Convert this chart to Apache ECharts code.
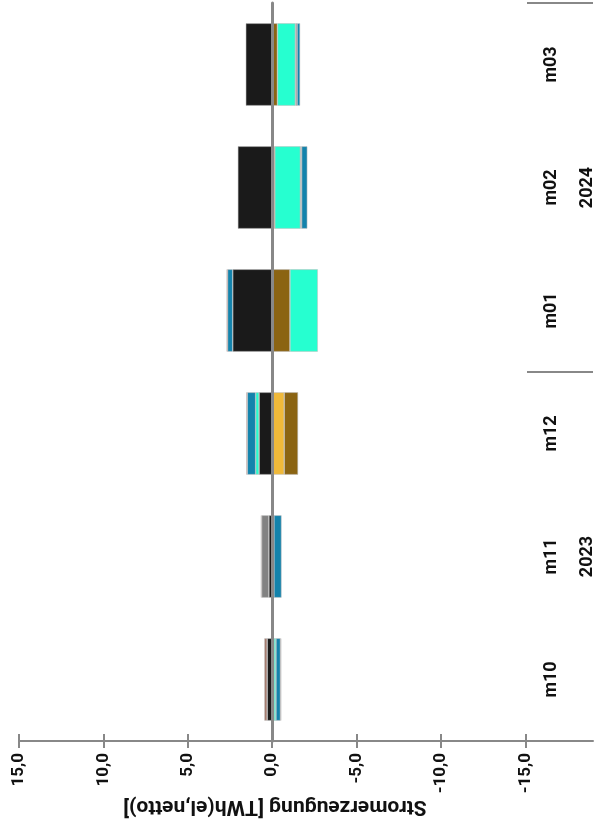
<!DOCTYPE html>
<html>
<head>
<meta charset="utf-8">
<script src="https://cdn.jsdelivr.net/npm/echarts@6/dist/echarts.min.js"></script>
<style>
html,body{margin:0;padding:0;background:#fff;}
#chart{width:596px;height:825px;}
</style>
</head>
<body>
<div id="chart"></div>
<script>
// Categories (bottom to top in the picture)
const categories = ['m10', 'm11', 'm12', 'm01', 'm02', 'm03'];
const years = ['2023', '2024'];
const tickValues = [-15, -10, -5, 0, 5, 10, 15];
const axisTitle = 'Stromerzeugung [TWh(el,netto)]';

// Series values (TWh), positive = left side, negative = right side
const sBlack  = [0.30, 0.20, 0.78, 2.34, 2.04, 1.57];
const sYellow = [-0.10, null, -0.71, null, null, null];
const sBrown  = [null, null, -0.82, -1.05, -0.15, -0.31];
const sCyan   = [-0.12, -0.10, 0.20, -1.65, -1.52, -1.06];
const sGray   = [null, 0.43, null, null, -0.07, -0.10];
const sBlue   = [-0.27, -0.45, 0.50, 0.31, -0.34, -0.18];
const sRose   = [0.17, null, null, null, null, null];
const sRed    = [-0.04, 0.04, 0.05, 0.05, null, null];

const seriesDefs = [
  ['Serie A', sBlack, '#1a1a1a'],
  ['Serie B', sYellow, '#f0b93a'],
  ['Serie C', sBrown, '#8b6412'],
  ['Serie D', sCyan, '#26ffd0'],
  ['Serie E', sGray, '#828282'],
  ['Serie F', sBlue, '#1383ac'],
  ['Serie G', sRose, '#a57a6c'],
  ['Serie H', sRed, '#d2462a']
];

const fmt = v => v.toFixed(1).replace('.', ',');
const font = 'Roboto, "Liberation Sans", Arial, sans-serif';

const chart = echarts.init(document.getElementById('chart'), null, {renderer: 'canvas'});
chart.setOption({
  animation: false,
  backgroundColor: '#ffffff',
  grid: {left: 19, right: 0, top: 3, bottom: 84, containLabel: false},
  xAxis: [
    {
      type: 'value', inverse: true, min: -19, max: 15, position: 'bottom',
      axisLine: {show: true, lineStyle: {color: '#888', width: 2}},
      axisTick: {show: true, customValues: tickValues, length: 7, lineStyle: {color: '#888', width: 2}},
      axisLabel: {show: true, customValues: tickValues, rotate: 90, margin: 12,
        formatter: fmt, color: '#111', fontSize: 17, fontWeight: 'bold', fontFamily: font},
      splitLine: {show: false}
    },
    {
      type: 'value', inverse: true, min: -19, max: 15, position: 'bottom',
      axisLine: {show: false},
      axisTick: {show: true, inside: true, customValues: tickValues, length: 7, lineStyle: {color: '#888', width: 2}},
      axisLabel: {show: false},
      splitLine: {show: false}
    }
  ],
  yAxis: [
    {
      type: 'category', data: categories, position: 'right',
      axisLine: {show: false, onZero: false},
      axisTick: {show: false},
      axisLabel: {show: true, inside: true, rotate: 90, margin: 33,
        color: '#111', fontSize: 18, fontWeight: 'bold', fontFamily: font},
      splitLine: {show: false}
    },
    {
      type: 'category', data: years, position: 'right',
      axisLine: {show: false, onZero: false},
      axisTick: {show: true, inside: true, length: 66, lineStyle: {color: '#888', width: 2}},
      axisLabel: {show: true, inside: true, rotate: 90, margin: -3,
        color: '#111', fontSize: 18, fontWeight: 'bold', fontFamily: font},
      splitLine: {show: false}
    },
    {
      type: 'category', data: categories, position: 'left', z: 10,
      axisLine: {show: true, onZero: true, lineStyle: {color: '#888', width: 3}},
      axisTick: {show: false},
      axisLabel: {show: false},
      splitLine: {show: false}
    }
  ],
  graphic: [
    {
      type: 'text', x: 275, y: 806, rotation: Math.PI,
      style: {text: axisTitle, fill: '#111', font: 'bold 21px ' + font,
        textAlign: 'center', textVerticalAlign: 'middle'}
    }
  ],
  series: seriesDefs.map(([name, data, color]) => ({
    name: name, type: 'bar', stack: 'total', data: data,
    xAxisIndex: 0, yAxisIndex: 0,
    barWidth: '67%',
    itemStyle: {color: color, borderColor: 'rgba(190,190,190,0.9)', borderWidth: 0.6},
    emphasis: {disabled: true}
  }))
});
</script>
</body>
</html>
